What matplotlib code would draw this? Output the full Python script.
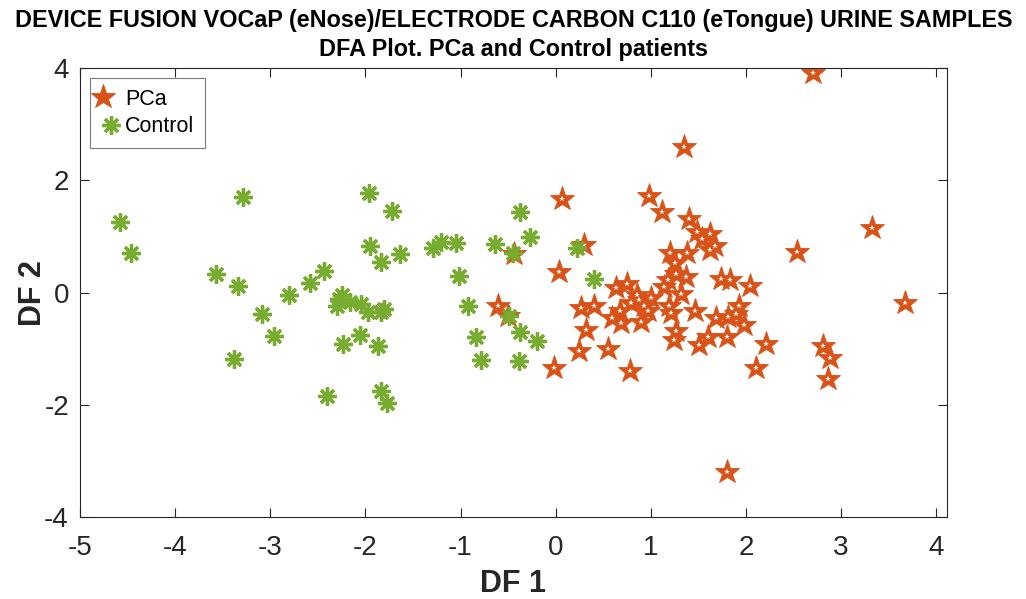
import matplotlib
matplotlib.use("Agg")
import matplotlib.pyplot as plt
from matplotlib.legend_handler import HandlerTuple

plt.rcParams['font.family'] = ['Liberation Sans', 'DejaVu Sans']
plt.rcParams['axes.unicode_minus'] = False

# DF scores
pca_df1 = [2.70, 1.35, 0.07, 0.98, 1.12, 1.40, 1.49, 1.62, 1.54, 1.67, 1.62, 3.32,
           2.54, 1.20, 1.38, 0.30, -0.44, 0.04, 1.25, 1.18, 1.26, 1.37, 1.32, 1.74,
           1.83, 2.04, 0.63, 0.75, 0.79, 0.88, 0.93, 0.97, 0.68, 0.59, 0.69, 0.90,
           0.27, 0.40, 0.32, 0.25, 0.55, 0.78, -0.02, -0.61, -0.50, 1.19, 1.21, 1.46,
           1.69, 1.81, 1.93, 1.90, 1.98, 1.26, 1.24, 1.51, 1.60, 1.80, 2.21, 2.11,
           2.81, 2.88, 2.86, 3.67, 1.80, 1.14, 0.85, 1.00]
pca_df2 = [3.92, 2.59, 1.67, 1.73, 1.44, 1.32, 1.08, 1.05, 0.96, 0.84, 0.76, 1.15,
           0.73, 0.70, 0.70, 0.85, 0.68, 0.37, 0.52, 0.22, 0.34, 0.28, -0.02, 0.25,
           0.22, 0.12, 0.08, 0.16, -0.18, -0.14, -0.24, -0.32, -0.33, -0.46, -0.54, -0.52,
           -0.27, -0.24, -0.66, -1.04, -1.00, -1.40, -1.34, -0.23, -0.41, -0.23, -0.36, -0.33,
           -0.45, -0.43, -0.24, -0.38, -0.57, -0.68, -0.84, -0.93, -0.80, -0.80, -0.92, -1.34,
           -0.96, -1.16, -1.54, -0.19, -3.19, 0.10, -0.05, -0.10]

ctrl_df1 = [-4.58, -4.46, -3.29, -1.96, -1.72, -0.38, -1.95, -1.64, -1.84, -1.29,
            -1.21, -1.05, -0.64, -0.27, -0.45, 0.22, 0.40, -3.57, -3.34, -2.44,
            -2.58, -2.80, -3.09, -2.96, -3.38, -2.25, -2.28, -2.30, -2.16, -2.05,
            -1.97, -1.84, -1.80, -2.24, -2.06, -1.87, -2.40, -1.84, -1.77, -1.02,
            -0.92, -0.49, -0.84, -0.38, -0.20, -0.78, -0.39]
ctrl_df2 = [1.26, 0.71, 1.71, 1.77, 1.45, 1.43, 0.84, 0.69, 0.54, 0.79,
            0.90, 0.89, 0.86, 0.99, 0.70, 0.79, 0.24, 0.33, 0.11, 0.38,
            0.18, -0.05, -0.38, -0.78, -1.19, -0.05, -0.11, -0.23, -0.17, -0.20,
            -0.35, -0.35, -0.30, -0.92, -0.75, -0.96, -1.85, -1.76, -1.96, 0.30,
            -0.23, -0.41, -0.79, -0.71, -0.87, -1.21, -1.22]

orange = '#D95319'
green = '#77AC30'
dark = '#262626'

fig = plt.figure(figsize=(10.26, 5.99), dpi=100)
ax = fig.add_axes([0.078, 0.137, 0.8447, 0.749])

h1, = ax.plot(pca_df1, pca_df2, ls='none', marker='*', ms=18.5, mfc=orange,
              mec=orange, mew=0.6)
h1w, = ax.plot(pca_df1, pca_df2, ls='none', marker='*', ms=4.2, mfc='white',
               mec='white', mew=0)
h2, = ax.plot(ctrl_df1, ctrl_df2, ls='none', marker=(8, 2, 0), ms=13,
              mec=green, mew=2.4)

ax.set_xlim(-5, 4.11)
ax.set_ylim(-4, 4)
ax.set_xticks(range(-5, 5))
ax.set_yticks([-4, -2, 0, 2, 4])
ax.tick_params(direction='in', length=6.5, width=0.8, top=True, right=True,
               labelsize=20, colors=dark)
ax.tick_params(axis='x', pad=13)
ax.tick_params(axis='y', pad=8)
for s in ax.spines.values():
    s.set_color(dark)
    s.set_linewidth(0.8)

ax.set_xlabel('DF 1', fontsize=22, fontweight='bold', color=dark, labelpad=6)
ax.set_ylabel('DF 2', fontsize=22, fontweight='bold', color=dark, labelpad=-3)
ax.set_title('DEVICE FUSION VOCaP (eNose)/ELECTRODE CARBON C110 (eTongue) URINE SAMPLES\n'
             'DFA Plot. PCa and Control patients',
             fontsize=16.8, fontweight='bold', color='black', pad=9, linespacing=1.3)

leg = ax.legend([(h1, h1w), h2], ['PCa', 'Control'], loc='upper left',
                handler_map={tuple: HandlerTuple(ndivide=None)},
                fontsize=15.5, frameon=True, fancybox=False, borderpad=0.5,
                handlelength=1.0, handletextpad=0.15, labelspacing=0.3,
                borderaxespad=0.45)
leg.get_frame().set_edgecolor('#5a5a5a')
leg.get_frame().set_linewidth(0.8)

fig.savefig('out.png', dpi=100)
